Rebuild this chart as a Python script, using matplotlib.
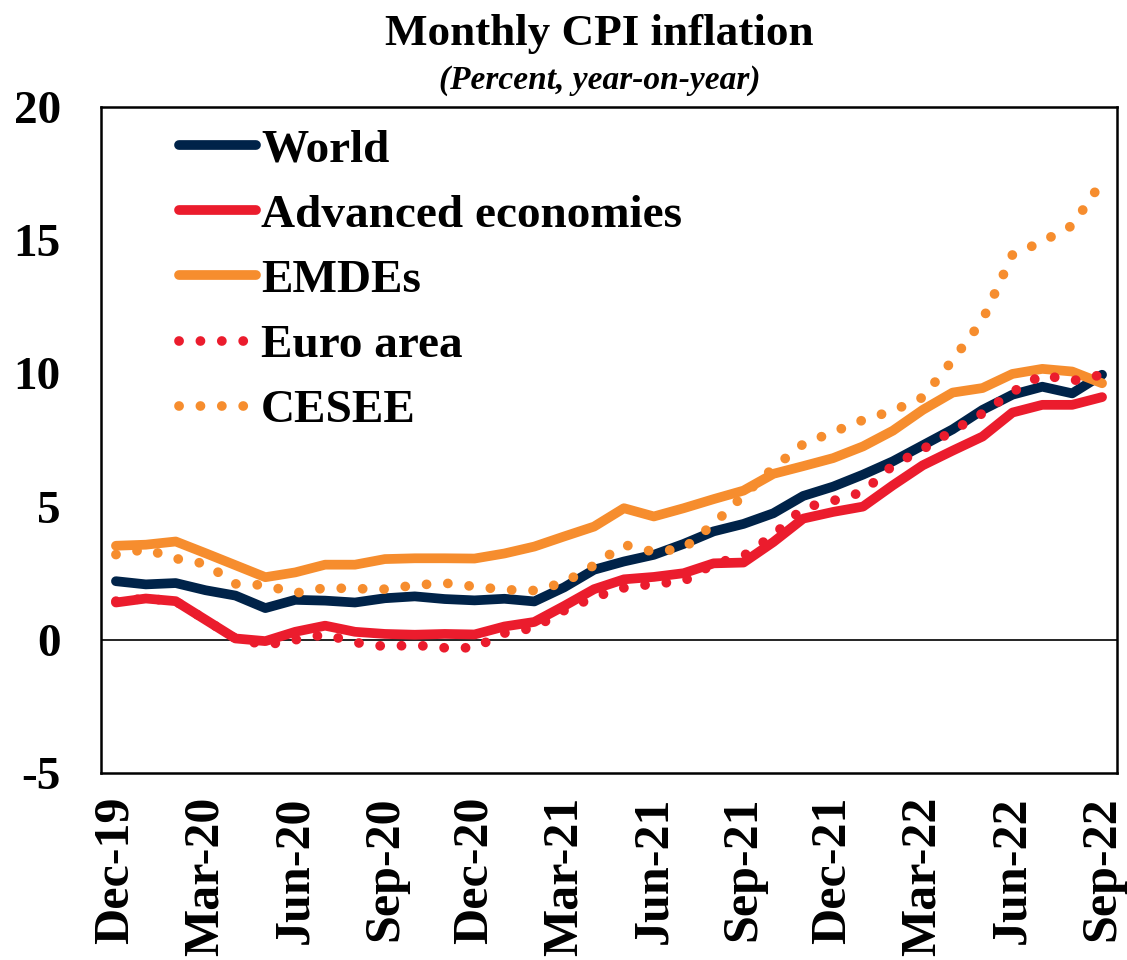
import matplotlib
matplotlib.use("Agg")
import matplotlib.pyplot as plt
import numpy as np

months = ["Dec-19", "Jan-20", "Feb-20", "Mar-20", "Apr-20", "May-20", "Jun-20", "Jul-20",
          "Aug-20", "Sep-20", "Oct-20", "Nov-20", "Dec-20", "Jan-21", "Feb-21", "Mar-21",
          "Apr-21", "May-21", "Jun-21", "Jul-21", "Aug-21", "Sep-21", "Oct-21", "Nov-21",
          "Dec-21", "Jan-22", "Feb-22", "Mar-22", "Apr-22", "May-22", "Jun-22", "Jul-22",
          "Aug-22", "Sep-22"]

world = [2.2, 2.08, 2.13, 1.86, 1.66, 1.19, 1.5, 1.47, 1.4, 1.56, 1.63, 1.53, 1.48, 1.54,
         1.44, 1.97, 2.63, 2.94, 3.19, 3.6, 4.07, 4.35, 4.75, 5.4, 5.75, 6.2, 6.7, 7.3, 7.9,
         8.63, 9.2, 9.5, 9.25, 9.95]
advanced = [1.4, 1.55, 1.45, 0.75, 0.05, -0.05, 0.3, 0.53, 0.3, 0.22, 0.19, 0.22, 0.2, 0.5,
            0.67, 1.27, 1.9, 2.27, 2.36, 2.5, 2.87, 2.9, 3.67, 4.55, 4.8, 5.0, 5.8, 6.55, 7.1,
            7.63, 8.53, 8.82, 8.82, 9.11]
emdes = [3.53, 3.57, 3.69, 3.25, 2.8, 2.35, 2.53, 2.82, 2.82, 3.03, 3.06, 3.06, 3.05, 3.24,
         3.5, 3.88, 4.25, 4.94, 4.63, 4.94, 5.28, 5.6, 6.23, 6.52, 6.82, 7.26, 7.85, 8.63,
         9.28, 9.45, 9.98, 10.17, 10.07, 9.63]
euro = [1.45, 1.55, 1.45, 0.75, 0.05, -0.2, 0.0, 0.2, -0.1, -0.25, -0.2, -0.3, -0.3, 0.25,
        0.45, 1.1, 1.6, 1.95, 2.1, 2.2, 2.85, 3.15, 3.93, 4.95, 5.22, 5.55, 6.55, 7.15, 7.85,
        8.5, 9.3, 9.95, 9.72, 9.95]
cesee = [3.2, 3.4, 3.05, 2.85, 2.1, 2.05, 1.75, 1.95, 1.92, 1.9, 2.05, 2.13, 2.0, 1.88, 1.85,
         2.15, 2.8, 3.57, 3.3, 3.43, 4.35, 5.42, 6.45, 7.35, 7.8, 8.25, 8.6, 9.1, 10.5, 12.0,
         14.45, 14.95, 15.55, 17.2]

y_ticks = [-5, 0, 5, 10, 15, 20]
y_tick_labels = ["-5", "0", "5", "10", "15", "20"]

NAVY = "#002349"
RED = "#EB1C2D"
ORANGE = "#F68D2E"

plt.rcParams["font.family"] = ["Liberation Serif", "DejaVu Serif"]
plt.rcParams["font.weight"] = "bold"

fig = plt.figure(figsize=(11.27, 9.6), dpi=100)
ax = fig.add_axes([101 / 1127, 1 - 773 / 960, 1016 / 1127, 666 / 960])

x = np.arange(len(months))
lw = 7.0
dot = (0, (0.01, 2.19))
ax.axhline(0, color="black", lw=1.2, zorder=1)
ax.plot(x, world, color=NAVY, lw=lw, solid_joinstyle="round", solid_capstyle="round",
        label="World", zorder=3)
ax.plot(x, advanced, color=RED, lw=lw, solid_joinstyle="round", solid_capstyle="round",
        label="Advanced economies", zorder=3)
ax.plot(x, emdes, color=ORANGE, lw=lw, solid_joinstyle="round", solid_capstyle="round",
        label="EMDEs", zorder=3)
ax.plot(x, euro, color=RED, lw=7.0, linestyle=dot, dash_capstyle="round",
        label="Euro area", zorder=4)
ax.plot(x, cesee, color=ORANGE, lw=7.0, linestyle=dot, dash_capstyle="round",
        label="CESEE", zorder=4)

ax.set_xlim(-0.5, len(months) - 0.5)
ax.set_ylim(-5, 20)
ax.set_yticks(y_ticks)
ax.set_yticklabels(y_tick_labels, fontsize=34, fontweight="bold")
tick_idx = list(range(0, len(months), 3))
ax.set_xticks(tick_idx)
ax.set_xticklabels([months[i] for i in tick_idx], rotation=90, fontsize=36,
                   fontweight="bold")
ax.tick_params(axis="y", length=0, pad=29)
ax.tick_params(axis="x", length=0, pad=17)
for s in ax.spines.values():
    s.set_linewidth(1.8)
    s.set_color("black")

leg = ax.legend(loc="upper left", bbox_to_anchor=(0.077, 0.968), frameon=False,
                handlelength=1.63, handletextpad=0.1, labelspacing=0.47,
                borderaxespad=0, borderpad=0, prop={"weight": "bold", "size": 34})

fig.text(0.532, 1 - 45 / 960, "Monthly CPI inflation", ha="center", va="baseline",
         fontsize=32.5, fontweight="bold")
fig.text(0.532, 1 - 89 / 960, "(Percent, year-on-year)", ha="center", va="baseline",
         fontsize=24, fontweight="bold", style="italic")

fig.savefig("out.png", dpi=100)
